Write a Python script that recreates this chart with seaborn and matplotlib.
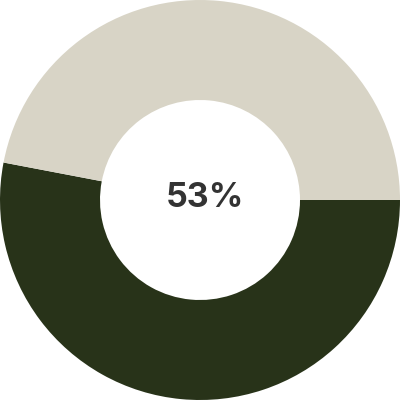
import matplotlib
matplotlib.use('Agg')
import matplotlib.pyplot as plt
import seaborn as sns

labels = ['Done', 'Remaining']
values = [53, 47]
colors = ['#283319', '#d8d4c6']
center_text = '53%'

sns.set_theme(style='white')
plt.rcParams['font.family'] = ['Inter', 'DejaVu Sans']

fig, ax = plt.subplots(figsize=(4, 4), dpi=100)
fig.subplots_adjust(0, 0, 1, 1)
ax.pie(values, colors=colors, startangle=0, counterclock=False,
       radius=1.0, wedgeprops=dict(width=0.5, edgecolor='none'))
ax.text(0.025, 0.01, center_text, ha='center', va='center', fontsize=24.5,
        fontweight='bold', color='#333333')
ax.set_xlim(-1, 1)
ax.set_ylim(-1, 1)
ax.set_aspect('equal')
ax.axis('off')
fig.savefig('out.png', dpi=100, facecolor='white')
